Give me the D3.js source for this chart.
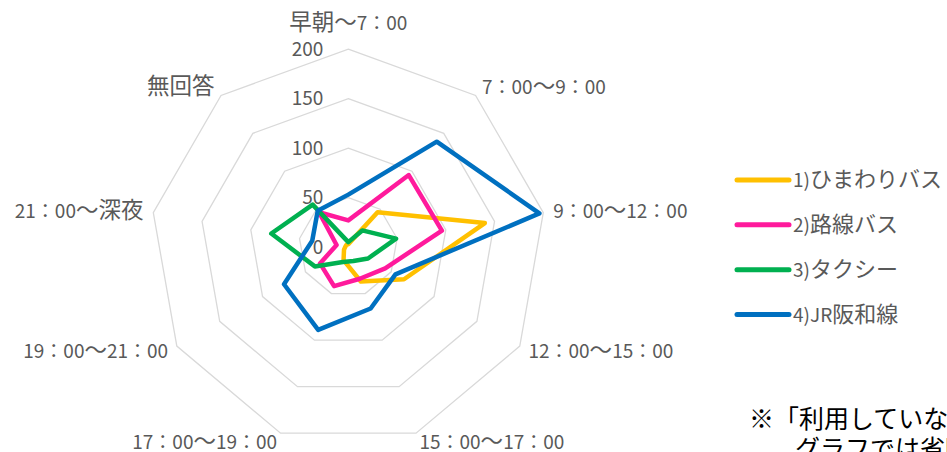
<!DOCTYPE html>
<html>

<head>
  <meta charset="UTF-8">
  <title>radar</title>
  <style>
    body { margin: 0; background: #fff; }
    text { font-family: "Noto Sans CJK JP", "Noto Sans", sans-serif; }
  </style>
</head>

<body>
  <div class="graph"></div>
  <script src="https://d3js.org/d3.v7.min.js"></script>
  <script>

    /// data

    var categories = ['早朝～7：00', '7：00～9：00', '9：00～12：00', '12：00～15：00', '15：00～17：00',
                      '17：00～19：00', '19：00～21：00', '21：00～深夜', '無回答'];
    var ticks = [0, 50, 100, 150, 200];

    var seriesNames = ['1)ひまわりバス', '2)路線バス', '3)タクシー', '4)JR阪和線'];
    var himawari = [3, 46, 140, 65, 37, 14, 5, 3, 3];
    var rosen    = [27, 95, 96, 43, 34, 42, 33, 12, 46];
    var taxi     = [5, 22, 49, 23, 15, 16, 39, 79, 56];
    var jr       = [53, 139, 196, 55, 66, 89, 75, 37, 48];

    var colors = ['#ffc000', '#ff1a9c', '#00b050', '#0070c0'];
    var textColor = '#595959';

    /// helpers

    // the original font has wide kanji/kana and narrow digits,
    // so split the string in runs and size them separately
    function fillRuns(sel, txt, asciiSize, cjkSize) {
      var runs = txt.match(/[\x00-\x7f：]+|[^\x00-\x7f：]+/g);
      runs.forEach(function(run) {
        var ascii = /^[\x00-\x7f：]/.test(run);
        sel.append("tspan")
          .style("font-size", (ascii ? asciiSize : cjkSize) + "px")
          .text(run);
      });
    }

    /// main

    var width = 947, height = 452;
    var cx = 348.3, cy = 247.1;

    var svg = d3.select(".graph").append("svg")
      .attr("width", width)
      .attr("height", height);

    var g = svg.append("g")
      .attr("transform", "translate(" + cx + "," + cy + ")");

    var r = d3.scaleLinear().domain([0, 200]).range([0, 198]);
    var angle = d3.scalePoint()
      .domain(d3.range(categories.length + 1))
      .range([0, 2 * Math.PI]);

    var radial = d3.lineRadial()
      .angle(function(d, i) { return angle(i); })
      .radius(function(d) { return r(d); })
      .curve(d3.curveLinearClosed);

    // grid rings
    g.append("g").attr("class", "grid")
      .selectAll("path")
      .data(ticks.slice(1))
      .enter().append("path")
        .attr("d", function(t) { return radial(categories.map(function() { return t; })); })
        .attr("fill", "none")
        .attr("stroke", "#d9d9d9")
        .attr("stroke-width", 1.3);

    // tick labels (left of the vertical axis)
    g.append("g").attr("class", "ticks")
      .selectAll("text")
      .data(ticks)
      .enter().append("text")
        .attr("x", -25)
        .attr("y", function(t) { return -r(t); })
        .attr("dy", "0.35em")
        .attr("text-anchor", "end")
        .attr("fill", textColor)
        .style("font-size", "19px")
        .text(function(t) { return t; });

    // category labels
    g.append("g").attr("class", "cats")
      .selectAll("text")
      .data(categories)
      .enter().append("text")
        .each(function(c, i) {
          var a = angle(i), s = Math.sin(a), co = Math.cos(a);
          var off = co > 0.99 ? 26 : 10;
          var rr = r(200) + off;
          d3.select(this)
            .attr("x", rr * s)
            .attr("y", -rr * co)
            .attr("dy", "0.35em")
            .attr("text-anchor", s > 0.1 ? "start" : (s < -0.1 ? "end" : "middle"))
            .attr("fill", textColor)
            .style("font-size", "19px")
            .call(fillRuns, c, 19, 22.5);
        });

    // series
    var series = [himawari, rosen, taxi, jr];
    g.append("g").attr("class", "series")
      .selectAll("path")
      .data(series)
      .enter().append("path")
        .attr("d", radial)
        .attr("fill", "none")
        .attr("stroke", function(d, i) { return colors[i]; })
        .attr("stroke-width", 4.5)
        .attr("stroke-linejoin", "round");

    // legend
    var legendY = d3.scalePoint().domain(seriesNames).range([180, 314.5]);
    var legend = svg.append("g").attr("class", "legend")
      .selectAll("g")
      .data(seriesNames)
      .enter().append("g")
        .attr("transform", function(d) { return "translate(735," + legendY(d) + ")"; });

    legend.append("line")
      .attr("x1", 2).attr("x2", 54)
      .attr("stroke", function(d, i) { return colors[i]; })
      .attr("stroke-width", 5)
      .attr("stroke-linecap", "round");

    legend.append("text")
      .attr("x", 58)
      .attr("dy", "0.35em")
      .attr("fill", textColor)
      .style("font-size", "20px")
      .each(function(d) { d3.select(this).call(fillRuns, d, 19, 22); });

    // note (runs off the right edge, as in the original slide)
    var note = svg.append("g").attr("class", "note")
      .attr("fill", "#000")
      .style("font-size", "25px");
    note.append("text")
      .attr("x", 749).attr("y", 419).attr("dy", "0.35em")
      .text("※「利用していない」は");
    note.append("text")
      .attr("x", 795).attr("y", 449).attr("dy", "0.35em")
      .text("グラフでは省略しています");

  </script>
</body>
</html>
